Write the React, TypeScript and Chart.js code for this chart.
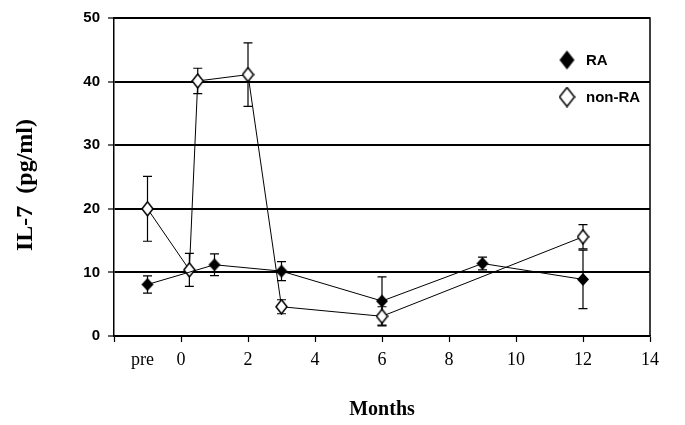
import React, { useEffect, useRef } from 'react';
import { Chart, registerables } from 'chart.js';

Chart.register(...registerables);

// ---- data ----
const SERIES_NAMES = ['RA', 'non-RA'];
const RA_MONTHS = [-1, 1, 3, 6, 9, 12];
const RA_VALUES = [8.1, 11.2, 10.2, 5.5, 11.4, 8.9];
const RA_ERRORS = [1.35, 1.7, 1.5, 3.8, 1.0, 4.6];
const NONRA_MONTHS = [-1, 0.25, 0.5, 2, 3, 6, 12];
const NONRA_VALUES = [20, 10.4, 40.1, 41.1, 4.6, 3.1, 15.6];
const NONRA_ERRORS = [5.1, 2.6, 2.0, 5.0, 1.1, 1.5, 1.9];
const X_TICK_VALUES = [-2, -1.15, 0, 2, 4, 6, 8, 10, 12, 14];
const X_TICK_LABELS = ['', 'pre', '0', '2', '4', '6', '8', '10', '12', '14'];
const Y_MIN = 0;
const Y_MAX = 50;
const Y_STEP = 10;
const X_TITLE = 'Months';
const Y_TITLE = 'IL-7  (pg/ml)';

function diamond(w: number, h: number, fill: string, stroke?: string) {
  const c = document.createElement('canvas');
  c.width = w + 2;
  c.height = h + 2;
  const g = c.getContext('2d')!;
  g.beginPath();
  g.moveTo(c.width / 2, 1);
  g.lineTo(c.width - 1, c.height / 2);
  g.lineTo(c.width / 2, c.height - 1);
  g.lineTo(1, c.height / 2);
  g.closePath();
  g.fillStyle = fill;
  g.fill();
  if (stroke) {
    g.strokeStyle = stroke;
    g.lineWidth = 1.5;
    g.stroke();
  }
  return c;
}

export default function App() {
  const ref = useRef<HTMLCanvasElement | null>(null);

  useEffect(() => {
    if (!ref.current) return;
    const raMarker = diamond(12, 13, '#000');
    const nonMarker = diamond(11, 14, '#fff', '#000');
    const raLegend = diamond(15, 19, '#000');
    const nonLegend = diamond(15, 19, '#fff', '#000');

    const errorBars = {
      id: 'errorBars',
      beforeDatasetsDraw(chart: any) {
        const { ctx, scales } = chart;
        const x = scales.x, y = scales.y;
        ctx.save();
        ctx.strokeStyle = '#000';
        ctx.lineWidth = 1.2;
        chart.data.datasets.forEach((ds: any) => {
          ds.data.forEach((p: any, i: number) => {
            const e = ds.errors[i];
            const px = x.getPixelForValue(p.x);
            const top = y.getPixelForValue(p.y + e);
            const bot = y.getPixelForValue(p.y - e);
            ctx.beginPath();
            ctx.moveTo(px, top);
            ctx.lineTo(px, bot);
            ctx.moveTo(px - 4.5, top);
            ctx.lineTo(px + 4.5, top);
            ctx.moveTo(px - 4.5, bot);
            ctx.lineTo(px + 4.5, bot);
            ctx.stroke();
          });
        });
        ctx.restore();
      },
    };

    const decorations = {
      id: 'decorations',
      afterDraw(chart: any) {
        const { ctx, chartArea } = chart;
        ctx.save();
        ctx.strokeStyle = '#000';
        ctx.lineWidth = 1.5;
        ctx.beginPath();
        ctx.moveTo(chartArea.left, chartArea.top);
        ctx.lineTo(chartArea.right, chartArea.top);
        ctx.lineTo(chartArea.right, chartArea.bottom);
        ctx.stroke();

        ctx.fillStyle = '#000';
        ctx.textAlign = 'center';
        ctx.textBaseline = 'middle';
        ctx.font = 'bold 20px "Liberation Serif"';
        ctx.fillText(X_TITLE, (chartArea.left + chartArea.right) / 2, 410);

        ctx.save();
        ctx.translate(26, 185);
        ctx.rotate(-Math.PI / 2);
        ctx.font = 'bold 24px "Liberation Serif"';
        ctx.fillText(Y_TITLE, 0, 0);
        ctx.restore();

        const markers = [raLegend, nonLegend];
        const ys = [60, 97];
        ctx.font = 'bold 15px "Liberation Sans"';
        ctx.textAlign = 'left';
        chart.data.datasets.forEach((ds: any, i: number) => {
          const m = markers[i];
          ctx.drawImage(m, 567 - m.width / 2, ys[i] - m.height / 2);
          ctx.fillText(ds.label, 586, ys[i] + 1);
        });
        ctx.restore();
      },
    };

    const chart = new Chart(ref.current, {
      type: 'scatter',
      data: {
        datasets: [
          {
            label: SERIES_NAMES[0],
            data: RA_MONTHS.map((m, i) => ({ x: m, y: RA_VALUES[i] })),
            errors: RA_ERRORS,
            showLine: true,
            borderColor: '#000',
            borderWidth: 1,
            pointStyle: raMarker,
            pointRadius: 7,
          } as any,
          {
            label: SERIES_NAMES[1],
            data: NONRA_MONTHS.map((m, i) => ({ x: m, y: NONRA_VALUES[i] })),
            errors: NONRA_ERRORS,
            showLine: true,
            borderColor: '#000',
            borderWidth: 1,
            pointStyle: nonMarker,
            pointRadius: 7,
          } as any,
        ],
      },
      options: {
        animation: false,
        responsive: false,
        maintainAspectRatio: false,
        layout: { padding: { top: 18, right: 35, left: 0, bottom: 0 } },
        plugins: { legend: { display: false }, tooltip: { enabled: false } },
        scales: {
          x: {
            type: 'linear',
            min: -2,
            max: 14,
            afterBuildTicks: (scale: any) => {
              scale.ticks = X_TICK_VALUES.map((v) => ({ value: v }));
            },
            afterFit: (scale: any) => {
              scale.height = 89;
            },
            border: { display: true, color: '#000', width: 1.5 },
            grid: {
              display: true,
              drawOnChartArea: false,
              drawTicks: true,
              tickLength: 6,
              tickWidth: 1.2,
              tickColor: (c: any) => (c.index === 1 ? 'rgba(0,0,0,0)' : '#000'),
            },
            ticks: {
              autoSkip: false,
              maxRotation: 0,
              padding: 7,
              color: '#000',
              font: { family: '"Liberation Serif"', size: 18 },
              callback: (_v: any, i: number) => X_TICK_LABELS[i],
            },
          },
          y: {
            type: 'linear',
            min: Y_MIN,
            max: Y_MAX,
            afterFit: (scale: any) => {
              scale.width = 114;
            },
            border: { display: true, color: '#000', width: 1.5 },
            grid: {
              display: true,
              color: '#000',
              lineWidth: 2,
              drawTicks: true,
              tickLength: 6,
              tickWidth: 1.2,
              tickColor: '#000',
            },
            ticks: {
              stepSize: Y_STEP,
              padding: 8,
              color: '#000',
              font: { family: '"Liberation Sans"', size: 15, weight: 'bold' },
            },
          },
        },
      },
      plugins: [errorBars, decorations],
    } as any);
    return () => chart.destroy();
  }, []);

  return (
    <div style={{ position: 'fixed', left: 0, top: 0, width: 685, height: 425, background: '#fff' }}>
      <canvas ref={ref} width={685} height={425} style={{ display: 'block' }} />
    </div>
  );
}
